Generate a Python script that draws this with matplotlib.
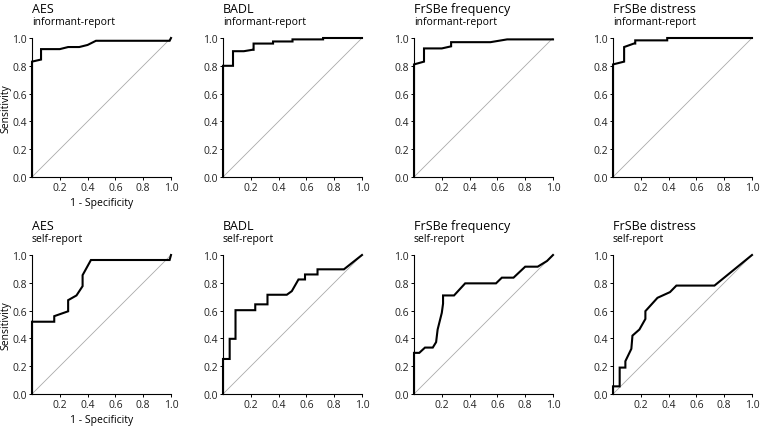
import matplotlib
matplotlib.use('Agg')
import matplotlib.pyplot as plt

plt.rcParams['font.family'] = ['Open Sans', 'DejaVu Sans']

# ROC curves: (1 - specificity, sensitivity)
aes_inf_x = [0, 0, 0.065, 0.065, 0.2, 0.26, 0.34, 0.4, 0.46, 0.99, 1.0]
aes_inf_y = [0, 0.83, 0.845, 0.92, 0.92, 0.935, 0.935, 0.95, 0.98, 0.98, 1.0]

badl_inf_x = [0, 0, 0.072, 0.072, 0.15, 0.21, 0.22, 0.22, 0.36, 0.36, 0.5, 0.5, 0.72, 0.72, 1.0]
badl_inf_y = [0, 0.80, 0.80, 0.905, 0.905, 0.915, 0.915, 0.96, 0.96, 0.975, 0.975, 0.99, 0.99, 1.0, 1.0]

frf_inf_x = [0, 0, 0.072, 0.072, 0.2, 0.267, 0.267, 0.55, 0.67, 1.0]
frf_inf_y = [0, 0.81, 0.83, 0.925, 0.925, 0.94, 0.97, 0.97, 0.99, 0.99]

frd_inf_x = [0, 0, 0.08, 0.08, 0.15, 0.16, 0.16, 0.39, 0.39, 1.0]
frd_inf_y = [0, 0.81, 0.83, 0.935, 0.96, 0.96, 0.983, 0.983, 1.0, 1.0]

aes_self_x = [0, 0, 0.16, 0.16, 0.26, 0.26, 0.32, 0.364, 0.364, 0.424, 0.99, 1.0]
aes_self_y = [0, 0.52, 0.52, 0.56, 0.595, 0.675, 0.709, 0.776, 0.855, 0.964, 0.964, 1.0]

badl_self_x = [0, 0, 0.048, 0.048, 0.09, 0.09, 0.232, 0.232, 0.32, 0.32, 0.459, 0.495,
               0.543, 0.59, 0.59, 0.68, 0.68, 0.87, 1.0]
badl_self_y = [0, 0.252, 0.252, 0.397, 0.397, 0.603, 0.603, 0.645, 0.645, 0.714, 0.714, 0.74,
               0.824, 0.824, 0.86, 0.86, 0.897, 0.897, 1.0]

frf_self_x = [0, 0, 0.038, 0.079, 0.135, 0.159, 0.17, 0.2, 0.209, 0.209, 0.288, 0.368,
              0.59, 0.632, 0.716, 0.8, 0.89, 0.957, 1.0]
frf_self_y = [0, 0.296, 0.296, 0.334, 0.334, 0.373, 0.464, 0.584, 0.65, 0.709, 0.709, 0.796,
              0.796, 0.837, 0.837, 0.916, 0.916, 0.957, 1.0]

frd_self_x = [0, 0, 0.048, 0.048, 0.089, 0.089, 0.132, 0.14, 0.19, 0.233, 0.233, 0.32,
              0.41, 0.456, 0.73, 1.0]
frd_self_y = [0, 0.055, 0.055, 0.19, 0.19, 0.236, 0.325, 0.42, 0.464, 0.54, 0.596, 0.692,
              0.733, 0.78, 0.78, 1.0]

titles = ['AES', 'BADL', 'FrSBe frequency', 'FrSBe distress']
subtitles = ['informant-report', 'self-report']
curves = [[(aes_inf_x, aes_inf_y), (badl_inf_x, badl_inf_y), (frf_inf_x, frf_inf_y), (frd_inf_x, frd_inf_y)],
          [(aes_self_x, aes_self_y), (badl_self_x, badl_self_y), (frf_self_x, frf_self_y), (frd_self_x, frd_self_y)]]

W, H = 760, 427
fig = plt.figure(figsize=(7.6, 4.27), dpi=100)

lefts = [32, 223, 414, 613]
tops = [39, 256]
size = 139

for r in range(2):
    for c in range(4):
        ax = fig.add_axes([lefts[c] / W, 1 - (tops[r] + size) / H, size / W, size / H])
        xs, ys = curves[r][c]
        ax.plot([0, 1], [0, 1], color='#aaaaaa', lw=0.6)
        ax.plot(xs, ys, color='black', lw=1.5, clip_on=False, solid_joinstyle='miter')
        ax.set_xlim(0, 1)
        ax.set_ylim(0, 1)
        ax.spines['top'].set_visible(False)
        ax.spines['right'].set_visible(False)
        ax.spines['left'].set_linewidth(0.8)
        ax.spines['bottom'].set_linewidth(0.8)
        ax.set_xticks([0.2, 0.4, 0.6, 0.8, 1.0])
        ax.set_yticks([0, 0.2, 0.4, 0.6, 0.8, 1.0])
        ax.set_xticklabels(['0.2', '0.4', '0.6', '0.8', '1.0'])
        ax.set_yticklabels(['0.0', '0.2', '0.4', '0.6', '0.8', '1.0'])
        ax.tick_params(direction='out', length=2, width=0.7, labelsize=7.5, pad=1.5,
                       labelcolor='#222222')
        ax.text(0, 1.19, titles[c], transform=ax.transAxes, fontsize=9, va='baseline', ha='left')
        ax.text(0, 1.10, subtitles[r], transform=ax.transAxes, fontsize=7.5, va='baseline', ha='left')
        if c == 0:
            ax.set_ylabel('Sensitivity', fontsize=7.5, labelpad=1)
            ax.set_xlabel('1 - Specificity', fontsize=7.5, labelpad=3)

fig.savefig('out.png', dpi=100)
